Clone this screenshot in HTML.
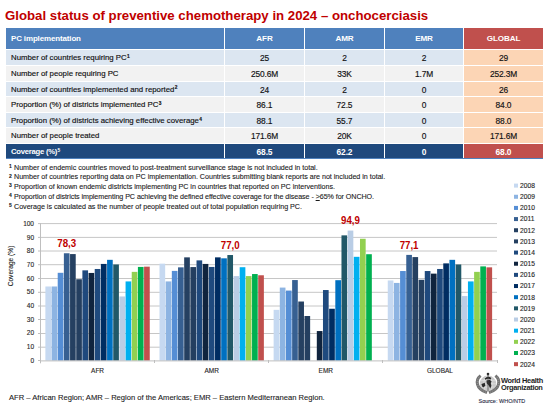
<!DOCTYPE html>
<html><head><meta charset="utf-8">
<style>
html,body{margin:0;padding:0;background:#fff;}
body{width:549px;height:410px;position:relative;overflow:hidden;font-family:"Liberation Sans", sans-serif;}
.t{position:absolute;left:5px;top:7px;font-weight:bold;color:#C00000;font-size:13.22px;line-height:18px;white-space:nowrap;}
.c{position:absolute;box-sizing:border-box;white-space:nowrap;overflow:hidden;font-size:8.4px;letter-spacing:-0.12px;color:#111;}
.l{font-size:7.8px;letter-spacing:0;}
.b{-webkit-text-stroke:0.15px #111;}
.f.l{font-size:7.7px;letter-spacing:-0.25px;}
.h{color:#fff;font-weight:bold;font-size:8.1px;}
.h0{font-size:7.95px;}
.f{color:#fff;font-weight:bold;}
.sp{font-size:4.8px;font-weight:bold;position:relative;top:-2.3px;margin-left:0.3px;}
.fn{position:absolute;left:9px;-webkit-text-stroke:0.1px #1a1a1a;font-size:7.16px;line-height:9px;color:#1a1a1a;white-space:nowrap;}
.fs{font-size:5px;font-weight:bold;vertical-align:top;position:relative;top:-1.8px;display:inline-block;width:5px;}
.bot{position:absolute;left:9px;top:393.4px;-webkit-text-stroke:0.1px #1a1a1a;font-size:7.6px;line-height:10px;color:#1a1a1a;white-space:nowrap;}
.who{position:absolute;left:501px;top:376.8px;font-weight:bold;font-size:7.4px;line-height:7.3px;color:#1e1e1e;white-space:nowrap;letter-spacing:-0.3px;}
.src{position:absolute;left:478.5px;top:397.5px;font-size:5.5px;line-height:7px;color:#25283f;white-space:nowrap;-webkit-text-stroke:0.1px #25283f;}
</style></head><body>
<div class="t">Global status of preventive chemotherapy in 2024 – onchocerciasis</div>
<div class="c h h0" style="left:6px;top:28.3px;width:218px;height:21.10px;line-height:22.70px;background:#4F81BD;text-align:left;padding-left:5px;">PC implementation</div>
<div class="c h" style="left:225px;top:28.3px;width:79px;height:21.10px;line-height:22.70px;background:#4F81BD;text-align:center;">AFR</div>
<div class="c h" style="left:305px;top:28.3px;width:79px;height:21.10px;line-height:22.70px;background:#4F81BD;text-align:center;">AMR</div>
<div class="c h" style="left:385px;top:28.3px;width:78px;height:21.10px;line-height:22.70px;background:#4F81BD;text-align:center;">EMR</div>
<div class="c h" style="left:464px;top:28.3px;width:79px;height:21.10px;line-height:22.70px;background:#C0504D;text-align:center;">GLOBAL</div>
<div class="c b l" style="left:6px;top:50.4px;width:218px;height:14.60px;line-height:16.20px;background:#DCE6F1;text-align:left;padding-left:5px;">Number of countries requiring PC<span class="sp">1</span></div>
<div class="c b" style="left:225px;top:50.4px;width:79px;height:14.60px;line-height:16.20px;background:#DCE6F1;text-align:center;">25</div>
<div class="c b" style="left:305px;top:50.4px;width:79px;height:14.60px;line-height:16.20px;background:#DCE6F1;text-align:center;">2</div>
<div class="c b" style="left:385px;top:50.4px;width:78px;height:14.60px;line-height:16.20px;background:#DCE6F1;text-align:center;">2</div>
<div class="c b" style="left:464px;top:50.4px;width:79px;height:14.60px;line-height:16.20px;background:#FCD5B5;text-align:center;">29</div>
<div class="c b l" style="left:6px;top:66.0px;width:218px;height:14.60px;line-height:16.20px;background:#F2F2F2;text-align:left;padding-left:5px;">Number of people requiring PC</div>
<div class="c b" style="left:225px;top:66.0px;width:79px;height:14.60px;line-height:16.20px;background:#F2F2F2;text-align:center;">250.6M</div>
<div class="c b" style="left:305px;top:66.0px;width:79px;height:14.60px;line-height:16.20px;background:#F2F2F2;text-align:center;">33K</div>
<div class="c b" style="left:385px;top:66.0px;width:78px;height:14.60px;line-height:16.20px;background:#F2F2F2;text-align:center;">1.7M</div>
<div class="c b" style="left:464px;top:66.0px;width:79px;height:14.60px;line-height:16.20px;background:#FCD5B5;text-align:center;">252.3M</div>
<div class="c b l" style="left:6px;top:81.6px;width:218px;height:14.60px;line-height:16.20px;background:#DCE6F1;text-align:left;padding-left:5px;">Number of countries implemented and reported<span class="sp">2</span></div>
<div class="c b" style="left:225px;top:81.6px;width:79px;height:14.60px;line-height:16.20px;background:#DCE6F1;text-align:center;">24</div>
<div class="c b" style="left:305px;top:81.6px;width:79px;height:14.60px;line-height:16.20px;background:#DCE6F1;text-align:center;">2</div>
<div class="c b" style="left:385px;top:81.6px;width:78px;height:14.60px;line-height:16.20px;background:#DCE6F1;text-align:center;">0</div>
<div class="c b" style="left:464px;top:81.6px;width:79px;height:14.60px;line-height:16.20px;background:#FCD5B5;text-align:center;">26</div>
<div class="c b l" style="left:6px;top:97.2px;width:218px;height:14.60px;line-height:16.20px;background:#F2F2F2;text-align:left;padding-left:5px;">Proportion (%) of districts implemented PC<span class="sp">3</span></div>
<div class="c b" style="left:225px;top:97.2px;width:79px;height:14.60px;line-height:16.20px;background:#F2F2F2;text-align:center;">86.1</div>
<div class="c b" style="left:305px;top:97.2px;width:79px;height:14.60px;line-height:16.20px;background:#F2F2F2;text-align:center;">72.5</div>
<div class="c b" style="left:385px;top:97.2px;width:78px;height:14.60px;line-height:16.20px;background:#F2F2F2;text-align:center;">0</div>
<div class="c b" style="left:464px;top:97.2px;width:79px;height:14.60px;line-height:16.20px;background:#FCD5B5;text-align:center;">84.0</div>
<div class="c b l" style="left:6px;top:112.8px;width:218px;height:14.60px;line-height:16.20px;background:#DCE6F1;text-align:left;padding-left:5px;">Proportion (%) of districts achieving effective coverage<span class="sp">4</span></div>
<div class="c b" style="left:225px;top:112.8px;width:79px;height:14.60px;line-height:16.20px;background:#DCE6F1;text-align:center;">88.1</div>
<div class="c b" style="left:305px;top:112.8px;width:79px;height:14.60px;line-height:16.20px;background:#DCE6F1;text-align:center;">55.7</div>
<div class="c b" style="left:385px;top:112.8px;width:78px;height:14.60px;line-height:16.20px;background:#DCE6F1;text-align:center;">0</div>
<div class="c b" style="left:464px;top:112.8px;width:79px;height:14.60px;line-height:16.20px;background:#FCD5B5;text-align:center;">88.0</div>
<div class="c b l" style="left:6px;top:128.4px;width:218px;height:14.60px;line-height:16.20px;background:#F2F2F2;text-align:left;padding-left:5px;">Number of people treated</div>
<div class="c b" style="left:225px;top:128.4px;width:79px;height:14.60px;line-height:16.20px;background:#F2F2F2;text-align:center;">171.6M</div>
<div class="c b" style="left:305px;top:128.4px;width:79px;height:14.60px;line-height:16.20px;background:#F2F2F2;text-align:center;">20K</div>
<div class="c b" style="left:385px;top:128.4px;width:78px;height:14.60px;line-height:16.20px;background:#F2F2F2;text-align:center;">0</div>
<div class="c b" style="left:464px;top:128.4px;width:79px;height:14.60px;line-height:16.20px;background:#FCD5B5;text-align:center;">171.6M</div>
<div class="c f l" style="left:6px;top:144.0px;width:218px;height:14.60px;line-height:16.20px;background:#1F497D;text-align:left;padding-left:5px;">Coverage (%)<span class="sp">5</span></div>
<div class="c f" style="left:225px;top:144.0px;width:79px;height:14.60px;line-height:16.20px;background:#1F497D;text-align:center;">68.5</div>
<div class="c f" style="left:305px;top:144.0px;width:79px;height:14.60px;line-height:16.20px;background:#1F497D;text-align:center;">62.2</div>
<div class="c f" style="left:385px;top:144.0px;width:78px;height:14.60px;line-height:16.20px;background:#1F497D;text-align:center;">0</div>
<div class="c f" style="left:464px;top:144.0px;width:79px;height:14.60px;line-height:16.20px;background:#C0504D;text-align:center;">68.0</div>
<div style="position:absolute;left:6px;top:158.4px;width:537px;height:0.8px;background:#4F81BD"></div>
<div class="fn" style="top:163.60px;letter-spacing:-0.015px"><span class="fs">1</span><span class="ft">Number of endemic countries moved to post-treatment surveillance stage is not included in total.</span></div>
<div class="fn" style="top:173.42px;letter-spacing:-0.02px"><span class="fs">2</span><span class="ft">Number of countries reporting data on PC implementation. Countries submitting blank reports are not included in total.</span></div>
<div class="fn" style="top:183.24px;letter-spacing:-0.02px"><span class="fs">3</span><span class="ft">Proportion of known endemic districts implementing PC in countries that reported on PC interventions.</span></div>
<div class="fn" style="top:193.06px;letter-spacing:-0.07px"><span class="fs">4</span><span class="ft">Proportion of districts implementing PC achieving the defined effective coverage for the disease - <u>&gt;</u>65% for ONCHO.</span></div>
<div class="fn" style="top:202.88px;letter-spacing:-0.022px"><span class="fs">5</span><span class="ft">Coverage is calculated as the number of people treated out of total population requiring PC.</span></div>
<svg width="549" height="410" viewBox="0 0 549 410" style="position:absolute;left:0;top:0">
<line x1="40.5" y1="347.20" x2="497.0" y2="347.20" stroke="#C6C6C6" stroke-width="1"/>
<line x1="40.5" y1="333.50" x2="497.0" y2="333.50" stroke="#C6C6C6" stroke-width="1"/>
<line x1="40.5" y1="319.50" x2="497.0" y2="319.50" stroke="#C6C6C6" stroke-width="1"/>
<line x1="40.5" y1="306.00" x2="497.0" y2="306.00" stroke="#C6C6C6" stroke-width="1"/>
<line x1="40.5" y1="292.30" x2="497.0" y2="292.30" stroke="#C6C6C6" stroke-width="1"/>
<line x1="40.5" y1="278.50" x2="497.0" y2="278.50" stroke="#C6C6C6" stroke-width="1"/>
<line x1="40.5" y1="264.70" x2="497.0" y2="264.70" stroke="#C6C6C6" stroke-width="1"/>
<line x1="40.5" y1="251.00" x2="497.0" y2="251.00" stroke="#C6C6C6" stroke-width="1"/>
<line x1="40.5" y1="237.40" x2="497.0" y2="237.40" stroke="#C6C6C6" stroke-width="1"/>
<line x1="40.5" y1="223.60" x2="497.0" y2="223.60" stroke="#C6C6C6" stroke-width="1"/>
<rect x="45.38" y="286.48" width="5.67" height="74.12" fill="#C6D9F1"/>
<rect x="51.55" y="286.48" width="5.67" height="74.12" fill="#8DB4E2"/>
<rect x="57.71" y="272.81" width="5.67" height="87.79" fill="#558ED5"/>
<rect x="63.88" y="253.26" width="5.67" height="107.34" fill="#376092"/>
<rect x="70.05" y="254.08" width="5.67" height="106.52" fill="#254061"/>
<rect x="76.22" y="279.24" width="5.67" height="81.36" fill="#243F60"/>
<rect x="82.39" y="270.35" width="5.67" height="90.25" fill="#1F497D"/>
<rect x="88.56" y="272.95" width="5.67" height="87.65" fill="#10243E"/>
<rect x="94.73" y="268.98" width="5.67" height="91.62" fill="#1F4A7E"/>
<rect x="100.90" y="263.93" width="5.67" height="96.67" fill="#002D62"/>
<rect x="107.07" y="259.83" width="5.67" height="100.77" fill="#0070C0"/>
<rect x="113.23" y="264.47" width="5.67" height="96.13" fill="#215868"/>
<rect x="119.40" y="296.46" width="5.67" height="64.14" fill="#B9CDE5"/>
<rect x="125.57" y="281.42" width="5.67" height="79.18" fill="#00B0F0"/>
<rect x="131.74" y="271.86" width="5.67" height="88.74" fill="#92D050"/>
<rect x="137.91" y="266.93" width="5.67" height="93.67" fill="#00B050"/>
<rect x="144.08" y="266.66" width="5.67" height="93.94" fill="#C0504D"/>
<text x="66.72" y="247.06" text-anchor="middle" font-family='"Liberation Sans", sans-serif' font-weight="bold" font-size="10.2" textLength="18.9" lengthAdjust="spacingAndGlyphs" fill="#C00000">78,3</text>
<rect x="159.50" y="263.65" width="5.67" height="96.95" fill="#C6D9F1"/>
<rect x="165.67" y="281.42" width="5.67" height="79.18" fill="#8DB4E2"/>
<rect x="171.84" y="270.90" width="5.67" height="89.70" fill="#558ED5"/>
<rect x="178.01" y="267.34" width="5.67" height="93.26" fill="#376092"/>
<rect x="184.18" y="257.36" width="5.67" height="103.24" fill="#254061"/>
<rect x="190.35" y="267.07" width="5.67" height="93.53" fill="#243F60"/>
<rect x="196.52" y="260.37" width="5.67" height="100.23" fill="#1F497D"/>
<rect x="202.68" y="263.93" width="5.67" height="96.67" fill="#10243E"/>
<rect x="208.85" y="266.93" width="5.67" height="93.67" fill="#1F4A7E"/>
<rect x="215.02" y="257.36" width="5.67" height="103.24" fill="#002D62"/>
<rect x="221.19" y="258.32" width="5.67" height="102.28" fill="#0070C0"/>
<rect x="227.36" y="255.04" width="5.67" height="105.56" fill="#215868"/>
<rect x="233.53" y="276.09" width="5.67" height="84.51" fill="#B9CDE5"/>
<rect x="239.70" y="267.21" width="5.67" height="93.39" fill="#00B0F0"/>
<rect x="245.87" y="276.09" width="5.67" height="84.51" fill="#92D050"/>
<rect x="252.04" y="274.04" width="5.67" height="86.56" fill="#00B050"/>
<rect x="258.20" y="275.27" width="5.67" height="85.33" fill="#C0504D"/>
<text x="230.19" y="248.84" text-anchor="middle" font-family='"Liberation Sans", sans-serif' font-weight="bold" font-size="10.2" textLength="18.9" lengthAdjust="spacingAndGlyphs" fill="#C00000">77,0</text>
<rect x="273.63" y="309.86" width="5.67" height="50.74" fill="#C6D9F1"/>
<rect x="279.80" y="287.58" width="5.67" height="73.02" fill="#8DB4E2"/>
<rect x="285.96" y="290.58" width="5.67" height="70.02" fill="#558ED5"/>
<rect x="292.13" y="280.06" width="5.67" height="80.54" fill="#376092"/>
<rect x="298.30" y="301.52" width="5.67" height="59.08" fill="#254061"/>
<rect x="304.47" y="316.01" width="5.67" height="44.59" fill="#243F60"/>
<rect x="316.81" y="331.05" width="5.67" height="29.55" fill="#10243E"/>
<rect x="322.98" y="290.04" width="5.67" height="70.56" fill="#1F4A7E"/>
<rect x="329.15" y="308.76" width="5.67" height="51.84" fill="#002D62"/>
<rect x="335.32" y="280.19" width="5.67" height="80.41" fill="#0070C0"/>
<rect x="341.48" y="235.36" width="5.67" height="125.24" fill="#215868"/>
<rect x="347.65" y="230.57" width="5.67" height="130.03" fill="#B9CDE5"/>
<rect x="353.82" y="256.82" width="5.67" height="103.78" fill="#00B0F0"/>
<rect x="359.99" y="238.77" width="5.67" height="121.83" fill="#92D050"/>
<rect x="366.16" y="254.22" width="5.67" height="106.38" fill="#00B050"/>
<text x="350.49" y="224.37" text-anchor="middle" font-family='"Liberation Sans", sans-serif' font-weight="bold" font-size="10.2" textLength="18.9" lengthAdjust="spacingAndGlyphs" fill="#C00000">94,9</text>
<rect x="387.75" y="280.47" width="5.67" height="80.13" fill="#C6D9F1"/>
<rect x="393.92" y="282.93" width="5.67" height="77.67" fill="#8DB4E2"/>
<rect x="400.09" y="271.03" width="5.67" height="89.57" fill="#558ED5"/>
<rect x="406.26" y="254.90" width="5.67" height="105.70" fill="#376092"/>
<rect x="412.43" y="257.09" width="5.67" height="103.51" fill="#254061"/>
<rect x="418.60" y="279.78" width="5.67" height="80.82" fill="#243F60"/>
<rect x="424.77" y="271.03" width="5.67" height="89.57" fill="#1F497D"/>
<rect x="430.93" y="273.63" width="5.67" height="86.97" fill="#10243E"/>
<rect x="437.10" y="268.98" width="5.67" height="91.62" fill="#1F4A7E"/>
<rect x="443.27" y="263.38" width="5.67" height="97.22" fill="#002D62"/>
<rect x="449.44" y="259.83" width="5.67" height="100.77" fill="#0070C0"/>
<rect x="455.61" y="264.47" width="5.67" height="96.13" fill="#215868"/>
<rect x="461.78" y="296.05" width="5.67" height="64.55" fill="#B9CDE5"/>
<rect x="467.95" y="281.42" width="5.67" height="79.18" fill="#00B0F0"/>
<rect x="474.12" y="271.86" width="5.67" height="88.74" fill="#92D050"/>
<rect x="480.29" y="266.39" width="5.67" height="94.21" fill="#00B050"/>
<rect x="486.45" y="267.34" width="5.67" height="93.26" fill="#C0504D"/>
<text x="409.09" y="248.70" text-anchor="middle" font-family='"Liberation Sans", sans-serif' font-weight="bold" font-size="10.2" textLength="18.9" lengthAdjust="spacingAndGlyphs" fill="#C00000">77,1</text>
<line x1="40.5" y1="223.1" x2="40.5" y2="363.3" stroke="#BFBFBF" stroke-width="1"/>
<line x1="40.5" y1="360.9" x2="497.0" y2="360.9" stroke="#BFBFBF" stroke-width="1"/>
<line x1="38" y1="360.50" x2="40.5" y2="360.50" stroke="#BFBFBF" stroke-width="1"/>
<text x="34" y="362.60" text-anchor="end" font-family='"Liberation Sans", sans-serif' font-size="6.5" fill="#262626" stroke="#262626" stroke-width="0.12">0</text>
<line x1="38" y1="347.20" x2="40.5" y2="347.20" stroke="#BFBFBF" stroke-width="1"/>
<text x="34" y="348.93" text-anchor="end" font-family='"Liberation Sans", sans-serif' font-size="6.5" fill="#262626" stroke="#262626" stroke-width="0.12">10</text>
<line x1="38" y1="333.50" x2="40.5" y2="333.50" stroke="#BFBFBF" stroke-width="1"/>
<text x="34" y="335.26" text-anchor="end" font-family='"Liberation Sans", sans-serif' font-size="6.5" fill="#262626" stroke="#262626" stroke-width="0.12">20</text>
<line x1="38" y1="319.50" x2="40.5" y2="319.50" stroke="#BFBFBF" stroke-width="1"/>
<text x="34" y="321.59" text-anchor="end" font-family='"Liberation Sans", sans-serif' font-size="6.5" fill="#262626" stroke="#262626" stroke-width="0.12">30</text>
<line x1="38" y1="306.00" x2="40.5" y2="306.00" stroke="#BFBFBF" stroke-width="1"/>
<text x="34" y="307.92" text-anchor="end" font-family='"Liberation Sans", sans-serif' font-size="6.5" fill="#262626" stroke="#262626" stroke-width="0.12">40</text>
<line x1="38" y1="292.30" x2="40.5" y2="292.30" stroke="#BFBFBF" stroke-width="1"/>
<text x="34" y="294.25" text-anchor="end" font-family='"Liberation Sans", sans-serif' font-size="6.5" fill="#262626" stroke="#262626" stroke-width="0.12">50</text>
<line x1="38" y1="278.50" x2="40.5" y2="278.50" stroke="#BFBFBF" stroke-width="1"/>
<text x="34" y="280.58" text-anchor="end" font-family='"Liberation Sans", sans-serif' font-size="6.5" fill="#262626" stroke="#262626" stroke-width="0.12">60</text>
<line x1="38" y1="264.70" x2="40.5" y2="264.70" stroke="#BFBFBF" stroke-width="1"/>
<text x="34" y="266.91" text-anchor="end" font-family='"Liberation Sans", sans-serif' font-size="6.5" fill="#262626" stroke="#262626" stroke-width="0.12">70</text>
<line x1="38" y1="251.00" x2="40.5" y2="251.00" stroke="#BFBFBF" stroke-width="1"/>
<text x="34" y="253.24" text-anchor="end" font-family='"Liberation Sans", sans-serif' font-size="6.5" fill="#262626" stroke="#262626" stroke-width="0.12">80</text>
<line x1="38" y1="237.40" x2="40.5" y2="237.40" stroke="#BFBFBF" stroke-width="1"/>
<text x="34" y="239.57" text-anchor="end" font-family='"Liberation Sans", sans-serif' font-size="6.5" fill="#262626" stroke="#262626" stroke-width="0.12">90</text>
<line x1="38" y1="223.60" x2="40.5" y2="223.60" stroke="#BFBFBF" stroke-width="1"/>
<text x="34" y="225.90" text-anchor="end" font-family='"Liberation Sans", sans-serif' font-size="6.5" fill="#262626" stroke="#262626" stroke-width="0.12">100</text>
<line x1="40.5" y1="360" x2="40.5" y2="363" stroke="#BFBFBF" stroke-width="1"/>
<line x1="154.5" y1="360" x2="154.5" y2="363" stroke="#BFBFBF" stroke-width="1"/>
<line x1="268.5" y1="360" x2="268.5" y2="363" stroke="#BFBFBF" stroke-width="1"/>
<line x1="382.5" y1="360" x2="382.5" y2="363" stroke="#BFBFBF" stroke-width="1"/>
<line x1="497.5" y1="360" x2="497.5" y2="363" stroke="#BFBFBF" stroke-width="1"/>
<text x="97.56" y="372.8" text-anchor="middle" font-family='"Liberation Sans", sans-serif' font-size="6.5" fill="#262626" stroke="#262626" stroke-width="0.12">AFR</text>
<text x="211.69" y="372.8" text-anchor="middle" font-family='"Liberation Sans", sans-serif' font-size="6.5" fill="#262626" stroke="#262626" stroke-width="0.12">AMR</text>
<text x="325.81" y="372.8" text-anchor="middle" font-family='"Liberation Sans", sans-serif' font-size="6.5" fill="#262626" stroke="#262626" stroke-width="0.12">EMR</text>
<text x="439.94" y="372.8" text-anchor="middle" font-family='"Liberation Sans", sans-serif' font-size="6.5" fill="#262626" stroke="#262626" stroke-width="0.12">GLOBAL</text>
<text transform="translate(12.7,266) rotate(-90)" text-anchor="middle" font-family='"Liberation Sans", sans-serif' font-size="6.6" fill="#262626" stroke="#262626" stroke-width="0.12">Coverage (%)</text>
<rect x="514" y="183.60" width="4" height="4" fill="#C6D9F1"/>
<text x="520" y="188.00" font-family='"Liberation Sans", sans-serif' font-size="6.7" fill="#262626" stroke="#262626" stroke-width="0.12">2008</text>
<rect x="514" y="194.76" width="4" height="4" fill="#8DB4E2"/>
<text x="520" y="199.16" font-family='"Liberation Sans", sans-serif' font-size="6.7" fill="#262626" stroke="#262626" stroke-width="0.12">2009</text>
<rect x="514" y="205.92" width="4" height="4" fill="#558ED5"/>
<text x="520" y="210.32" font-family='"Liberation Sans", sans-serif' font-size="6.7" fill="#262626" stroke="#262626" stroke-width="0.12">2010</text>
<rect x="514" y="217.08" width="4" height="4" fill="#376092"/>
<text x="520" y="221.48" font-family='"Liberation Sans", sans-serif' font-size="6.7" fill="#262626" stroke="#262626" stroke-width="0.12">2011</text>
<rect x="514" y="228.24" width="4" height="4" fill="#254061"/>
<text x="520" y="232.64" font-family='"Liberation Sans", sans-serif' font-size="6.7" fill="#262626" stroke="#262626" stroke-width="0.12">2012</text>
<rect x="514" y="239.40" width="4" height="4" fill="#243F60"/>
<text x="520" y="243.80" font-family='"Liberation Sans", sans-serif' font-size="6.7" fill="#262626" stroke="#262626" stroke-width="0.12">2013</text>
<rect x="514" y="250.56" width="4" height="4" fill="#1F497D"/>
<text x="520" y="254.96" font-family='"Liberation Sans", sans-serif' font-size="6.7" fill="#262626" stroke="#262626" stroke-width="0.12">2014</text>
<rect x="514" y="261.72" width="4" height="4" fill="#10243E"/>
<text x="520" y="266.12" font-family='"Liberation Sans", sans-serif' font-size="6.7" fill="#262626" stroke="#262626" stroke-width="0.12">2015</text>
<rect x="514" y="272.88" width="4" height="4" fill="#1F4A7E"/>
<text x="520" y="277.28" font-family='"Liberation Sans", sans-serif' font-size="6.7" fill="#262626" stroke="#262626" stroke-width="0.12">2016</text>
<rect x="514" y="284.04" width="4" height="4" fill="#002D62"/>
<text x="520" y="288.44" font-family='"Liberation Sans", sans-serif' font-size="6.7" fill="#262626" stroke="#262626" stroke-width="0.12">2017</text>
<rect x="514" y="295.20" width="4" height="4" fill="#0070C0"/>
<text x="520" y="299.60" font-family='"Liberation Sans", sans-serif' font-size="6.7" fill="#262626" stroke="#262626" stroke-width="0.12">2018</text>
<rect x="514" y="306.36" width="4" height="4" fill="#215868"/>
<text x="520" y="310.76" font-family='"Liberation Sans", sans-serif' font-size="6.7" fill="#262626" stroke="#262626" stroke-width="0.12">2019</text>
<rect x="514" y="317.52" width="4" height="4" fill="#B9CDE5"/>
<text x="520" y="321.92" font-family='"Liberation Sans", sans-serif' font-size="6.7" fill="#262626" stroke="#262626" stroke-width="0.12">2020</text>
<rect x="514" y="328.68" width="4" height="4" fill="#00B0F0"/>
<text x="520" y="333.08" font-family='"Liberation Sans", sans-serif' font-size="6.7" fill="#262626" stroke="#262626" stroke-width="0.12">2021</text>
<rect x="514" y="339.84" width="4" height="4" fill="#92D050"/>
<text x="520" y="344.24" font-family='"Liberation Sans", sans-serif' font-size="6.7" fill="#262626" stroke="#262626" stroke-width="0.12">2022</text>
<rect x="514" y="351.00" width="4" height="4" fill="#00B050"/>
<text x="520" y="355.40" font-family='"Liberation Sans", sans-serif' font-size="6.7" fill="#262626" stroke="#262626" stroke-width="0.12">2023</text>
<rect x="514" y="362.16" width="4" height="4" fill="#C0504D"/>
<text x="520" y="366.56" font-family='"Liberation Sans", sans-serif' font-size="6.7" fill="#262626" stroke="#262626" stroke-width="0.12">2024</text>
</svg>
<div class="bot">AFR – African Region; AMR – Region of the Americas; EMR – Eastern Mediterranean Region.</div>
<svg width="30" height="26" viewBox="0 0 30 26" style="position:absolute;left:472px;top:370px">
<circle cx="16" cy="13.8" r="8.2" fill="#c8c8c8"/>
<g fill="none" stroke="#e6e6e6" stroke-width="0.6">
<ellipse cx="16" cy="13.8" rx="4.2" ry="8.2"/>
<path d="M8.4 10.6 H23.6 M7.8 13.8 H24.2 M8.4 17 H23.6"/>
</g>
<g fill="none" stroke="#737373" stroke-width="3">
<path d="M8.6 5.6 C3.2 9.8 3.6 19 15 22.6"/>
<path d="M23.4 5.6 C28.8 9.8 28.4 19 17 22.6"/>
</g>
<g fill="none" stroke="#b0b0b0" stroke-width="0.7" stroke-dasharray="0.8 1.3">
<path d="M8.6 5.6 C3.2 9.8 3.6 19 15 22.6"/>
<path d="M23.4 5.6 C28.8 9.8 28.4 19 17 22.6"/>
</g>
<g fill="#2a2a2a">
<path d="M9.4 14 L12.8 12.8 L13.2 15.2 L11.8 17.4 L10.2 16.2 Z"/>
<path d="M14.4 10.4 L17.8 9.8 L19.6 11.4 L18.8 13 L19.4 16 L18.2 18.6 L16.8 15.6 L14.8 13.6 Z"/>
<path d="M12.6 8.4 Q16 5.4 19.4 8 L18.6 9.6 Q16 7.6 13.4 9.8 Z"/>
<circle cx="16" cy="4.1" r="1.3"/>
</g>
<path d="M16 4 V21" stroke="#444" stroke-width="0.7"/>
</svg>
<div class="who">World Health<br>Organization</div>
<div class="src">Source: WHO/NTD</div>
</body></html>
